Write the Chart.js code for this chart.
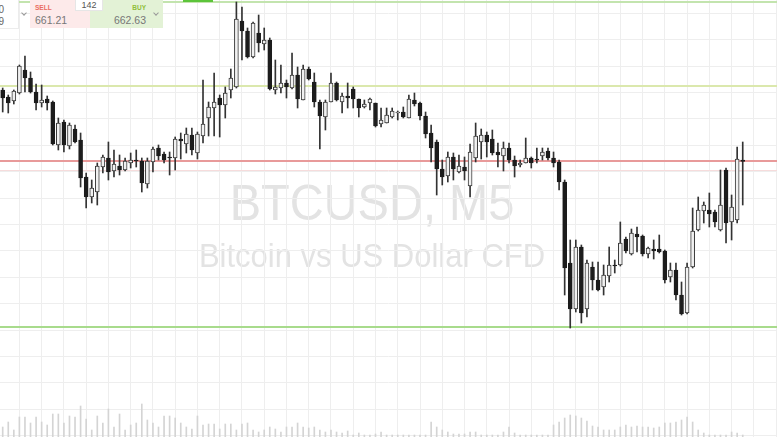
<!DOCTYPE html>
<html>
<head>
<meta charset="utf-8">
<script src="https://cdn.jsdelivr.net/npm/chart.js@4.4.1/dist/chart.umd.min.js"></script>
<style>
  html, body { margin: 0; padding: 0; background: #fff; overflow: hidden; }
  #wrap { position: relative; width: 777px; height: 437px; overflow: hidden;
          font-family: "Liberation Sans", Arial, sans-serif; }
  #wrap canvas { position: absolute; left: 0; top: 0; }
  .box { position: absolute; top: 0; height: 28px; }
  .cut { left: 0; width: 18px; background: #fff; border-right: 1px solid #ececec; border-bottom: 1px solid #ececec; overflow: hidden; }
  .cut div { position: absolute; right: 14px; font-size: 10px; color: #666; }
  .sell { left: 30px; width: 60px; background: #fdeaea; }
  .buy { left: 90px; width: 73px; background: #e3f2d6; }
  .lbl { position: absolute; top: 4px; font-size: 6.5px; font-weight: bold; }
  .px { position: absolute; top: 14px; font-size: 10.5px; color: #777; }
  .sell .lbl, .sell .px { left: 5px; }
  .sell .lbl { color: #ea6b5f; }
  .buy .lbl, .buy .px { right: 17px; }
  .buy .lbl { color: #8fbf3a; }
  .caret { position: absolute; top: 11px; width: 3px; height: 3px; border-right: 1px solid #999; border-bottom: 1px solid #999; transform: rotate(45deg); }
  .spread { position: absolute; left: 75px; top: 0; width: 26px; height: 10px; background: #fff;
            border: 1px solid #e6e6e6; border-top: none; font-size: 9px; line-height: 10px; color: #555; text-align: center; }
  .tab { position: absolute; left: 183px; top: 0; width: 30px; height: 2px; background: #5cc43a; }
</style>
</head>
<body>
<div id="wrap">
  <canvas id="chart"></canvas>
  <div class="tab"></div>
  <div class="box cut"><div style="top:4px">0</div><div style="top:16px">9</div></div>
  <div class="caret" style="left:22px"></div>
  <div class="box sell"><div class="lbl">SELL</div><div class="px" id="sellPx"></div></div>
  <div class="box buy"><div class="lbl">BUY</div><div class="px" id="buyPx"></div></div>
  <div class="caret" style="left:154px"></div>
  <div class="spread" id="spread"></div>
</div>
<script>
// BTCUSD, M5 candles
const opens = [
  663.20, 663.06, 662.98, 663.14, 663.60, 663.44, 663.16, 662.94, 663.02, 662.96,
  662.10, 662.56, 662.08, 662.42, 662.20, 661.46, 661.06, 661.16, 661.66, 661.84,
  661.58, 661.68, 661.60, 661.74, 661.80, 661.78, 661.32, 661.76, 662.04, 661.92,
  661.86, 661.84, 662.22, 662.12, 662.30, 661.94, 662.28, 662.64, 662.84, 663.04,
  662.90, 663.20, 663.26, 664.58, 664.38, 663.86, 664.34, 664.12, 664.20, 663.20,
  663.24, 663.34, 663.24, 663.50, 663.00, 663.62, 663.36, 662.96, 662.66, 662.96,
  663.34, 662.96, 663.08, 663.22, 663.02, 662.86, 662.94, 662.94, 662.52, 662.54,
  662.66, 662.74, 662.76, 662.64, 663.00, 662.94, 662.68, 662.34, 662.16, 661.62,
  661.48, 661.86, 661.56, 661.66, 661.28, 661.84, 662.16, 662.30, 662.22, 661.96,
  661.88, 662.04, 661.80, 661.70, 661.74, 661.84, 661.82, 661.88, 661.98, 661.84,
  661.76, 661.36, 659.74, 658.82, 660.06, 658.82, 659.66, 659.40, 659.26, 659.48,
  659.70, 659.70, 660.22, 659.92, 660.32, 660.28, 659.92, 660.02, 660.02, 659.98,
  659.46, 659.60, 659.10, 658.74, 659.66, 660.40, 660.78, 660.80, 660.76, 660.40,
  661.60, 660.56, 660.60, 661.80
];
const highs = [
  663.24, 663.10, 663.20, 663.70, 663.88, 663.56, 663.32, 663.30, 663.08, 662.98,
  662.64, 662.60, 662.54, 662.50, 662.34, 661.54, 661.40, 661.74, 661.90, 662.16,
  662.00, 661.90, 661.84, 661.94, 662.00, 661.84, 661.84, 662.06, 662.10, 661.96,
  661.96, 662.26, 662.34, 662.44, 662.44, 662.36, 663.40, 662.96, 663.54, 663.10,
  663.26, 663.62, 664.96, 664.86, 664.44, 664.56, 664.70, 664.44, 664.24, 663.80,
  663.70, 663.40, 663.94, 663.66, 663.70, 663.66, 663.54, 663.00, 663.00, 663.54,
  663.36, 663.14, 663.34, 663.26, 663.02, 663.00, 663.04, 662.94, 662.84, 662.84,
  662.84, 662.78, 662.86, 663.10, 663.14, 662.96, 662.76, 662.50, 662.20, 661.80,
  661.96, 661.94, 661.90, 661.86, 662.12, 662.54, 662.42, 662.36, 662.40, 662.14,
  662.16, 662.14, 661.88, 661.80, 662.24, 661.86, 662.04, 662.04, 662.04, 661.96,
  661.80, 661.40, 660.20, 660.20, 660.10, 659.80, 659.76, 659.76, 659.70, 660.06,
  659.80, 660.56, 660.26, 660.42, 660.46, 660.30, 660.06, 660.20, 660.30, 660.00,
  659.74, 659.74, 659.36, 659.74, 660.84, 661.06, 660.96, 661.14, 660.80, 661.60,
  661.64, 661.10, 662.06, 662.16
];
const lows = [
  662.76, 662.74, 662.92, 663.12, 663.16, 663.14, 662.80, 662.86, 662.80, 662.10,
  662.00, 661.96, 662.02, 662.14, 661.26, 660.84, 660.94, 660.90, 661.54, 661.40,
  661.46, 661.50, 661.58, 661.64, 661.66, 661.16, 661.24, 661.56, 661.80, 661.74,
  661.50, 661.60, 661.82, 661.94, 661.90, 661.82, 662.14, 662.28, 662.28, 662.26,
  662.64, 663.04, 663.24, 663.80, 663.84, 663.84, 663.96, 664.00, 663.20, 663.12,
  663.14, 663.04, 663.22, 662.84, 663.00, 663.40, 662.86, 662.02, 662.40, 662.96,
  662.98, 662.74, 662.84, 662.84, 662.66, 662.84, 662.80, 662.46, 662.46, 662.54,
  662.64, 662.60, 662.64, 662.64, 662.88, 662.60, 662.24, 661.76, 661.10, 661.30,
  661.36, 661.40, 661.54, 661.40, 661.06, 661.76, 661.82, 661.86, 661.90, 661.66,
  661.58, 661.74, 661.46, 661.66, 661.74, 661.64, 661.74, 661.80, 661.80, 661.66,
  661.20, 659.10, 658.44, 658.76, 658.54, 658.66, 659.20, 659.18, 659.10, 659.36,
  659.54, 659.68, 659.94, 659.90, 659.96, 659.88, 659.84, 659.82, 659.94, 659.34,
  659.36, 659.00, 658.70, 658.72, 659.64, 660.38, 660.54, 660.46, 660.46, 660.38,
  660.14, 660.20, 660.54, 660.90
];
const closes = [
  663.04, 662.94, 663.18, 663.68, 663.44, 663.16, 662.94, 663.00, 662.94, 662.12,
  662.54, 662.10, 662.50, 662.16, 661.44, 661.06, 661.24, 661.68, 661.86, 661.56,
  661.72, 661.60, 661.78, 661.80, 661.78, 661.34, 661.78, 662.02, 661.88, 661.80,
  661.84, 662.22, 662.18, 662.32, 662.00, 662.32, 662.52, 662.86, 662.96, 662.90,
  663.14, 663.44, 664.62, 664.38, 663.86, 664.54, 664.14, 664.20, 663.22, 663.26,
  663.34, 663.26, 663.50, 663.02, 663.62, 663.42, 662.96, 662.68, 662.96, 663.34,
  663.00, 663.08, 663.04, 663.02, 662.84, 662.92, 663.02, 662.48, 662.60, 662.70,
  662.78, 662.76, 662.66, 663.02, 662.92, 662.68, 662.32, 662.04, 661.62, 661.46,
  661.86, 661.62, 661.68, 661.58, 661.96, 662.28, 662.30, 662.16, 661.94, 661.90,
  662.04, 661.80, 661.68, 661.74, 661.84, 661.74, 661.80, 661.96, 661.84, 661.74,
  661.36, 659.64, 658.82, 660.06, 658.74, 659.74, 659.40, 659.20, 659.50, 659.70,
  659.68, 660.14, 659.98, 660.34, 660.26, 659.92, 660.04, 659.98, 659.96, 659.40,
  659.60, 659.10, 658.72, 659.66, 660.38, 660.80, 660.90, 660.72, 660.56, 660.90,
  660.54, 660.86, 661.82, 661.77
];
const volumes = [
  100, 150, 70, 200, 200, 140, 200, 150, 120, 230,
  230, 140, 210, 200, 310, 180, 70, 210, 140, 280,
  100, 230, 70, 120, 140, 330, 170, 140, 100, 210,
  210, 190, 140, 100, 80, 210, 120, 130, 130, 80,
  130, 130, 70, 130, 140, 70, 50, 70, 100, 80,
  50, 100, 100, 140, 100, 90, 100, 70, 50, 70,
  50, 40, 60, 20, 40, 20, 20, 30, 50, 20,
  20, 20, 20, 20, 20, 20, 20, 150, 100, 70,
  50, 30, 30, 30, 50, 50, 20, 20, 20, 20,
  50, 100, 40, 20, 20, 20, 20, 20, 20, 120,
  150, 190, 220, 210, 190, 160, 110, 100, 70, 70,
  70, 100, 120, 100, 110, 100, 100, 90, 100, 140,
  140, 150, 170, 200, 150, 70, 40, 20, 20, 20,
  20, 50, 40, 20
];

// horizontal price levels drawn across the chart
const levelPrices = [664.965, 663.28, 661.79, 661.59, 658.45];
const levelStyles = [
  { color: "#c3e4ae", width: 2 },
  { color: "#dbe8ad", width: 2 },
  { color: "#e89a9a", width: 2 },
  { color: "#f6dcdc", width: 1 },
  { color: "#a8db8c", width: 2 }
];

const watermark = ["BTCUSD, M5", "Bitcoin vs US Dollar CFD"];
const sellPrice = "661.21";
const buyPrice = "662.63";
const spread = "142";

document.getElementById("sellPx").textContent = sellPrice;
document.getElementById("buyPx").textContent = buyPrice;
document.getElementById("spread").textContent = spread;

const UP_FILL = "#f1f1f1";
const UP_LINE = "#3a3a3a";
const DOWN_FILL = "#1c1c1c";
const GRID = "#eeeeee";

const isUp = opens.map((o, i) => closes[i] >= o);
const bodies = opens.map((o, i) => ({ x: i, y: [o, closes[i]] }));
const wicks = opens.map((o, i) => ({ x: i, y: [lows[i], highs[i]] }));
const vols = volumes.map((v, i) => ({ x: i, y: v }));

// vertical grid every 4th candle
const gridCandles = [];
for (let i = 3; i <= 139; i += 4) gridCandles.push(i);

const backdrop = {
  id: "backdrop",
  beforeDraw(chart) {
    const ctx = chart.ctx;
    ctx.save();
    ctx.fillStyle = "#fff";
    ctx.fillRect(0, 0, chart.width, chart.height);
    ctx.fillStyle = "#e3e3e3";
    ctx.textAlign = "center";
    ctx.textBaseline = "alphabetic";
    ctx.translate(372, 0);
    ctx.scale(1, 1.08);
    ctx.font = "47px 'Liberation Sans', Arial, sans-serif";
    ctx.fillText(watermark[0], 0, 220 / 1.08);
    ctx.font = "31px 'Liberation Sans', Arial, sans-serif";
    ctx.fillText(watermark[1], 0, 267 / 1.08);
    ctx.restore();
  },
  beforeDatasetsDraw(chart) {
    const ctx = chart.ctx;
    const area = chart.chartArea;
    const y = chart.scales.y;
    ctx.save();
    levelPrices.forEach((p, k) => {
      const py = Math.round(y.getPixelForValue(p)) + (levelStyles[k].width === 1 ? 0.5 : 0);
      ctx.strokeStyle = levelStyles[k].color;
      ctx.lineWidth = levelStyles[k].width;
      ctx.beginPath();
      ctx.moveTo(area.left, py);
      ctx.lineTo(area.right, py);
      ctx.stroke();
    });
    ctx.restore();
  }
};

new Chart(document.getElementById("chart"), {
  type: "bar",
  data: {
    datasets: [
      {
        label: "body",
        data: bodies,
        grouped: false,
        barThickness: 4,
        backgroundColor: isUp.map(u => (u ? UP_FILL : DOWN_FILL)),
        borderColor: isUp.map(u => (u ? UP_LINE : DOWN_FILL)),
        borderWidth: 1,
        borderSkipped: false,
        yAxisID: "y"
      },
      {
        label: "wick",
        data: wicks,
        grouped: false,
        barThickness: 1,
        backgroundColor: "#333",
        borderWidth: 0,
        yAxisID: "y"
      },
      {
        label: "volume",
        data: vols,
        grouped: false,
        barThickness: 1,
        backgroundColor: "#d4d4d4",
        borderWidth: 0,
        yAxisID: "yv"
      }
    ]
  },
  options: {
    responsive: true,
    maintainAspectRatio: false,
    devicePixelRatio: 1,
    animation: false,
    layout: { padding: 0 },
    plugins: { legend: { display: false }, tooltip: { enabled: false } },
    scales: {
      x: {
        type: "linear",
        offset: false,
        min: -0.485,
        max: 139.16,
        afterBuildTicks: (scale) => { scale.ticks = gridCandles.map(v => ({ value: v })); },
        ticks: { display: false },
        grid: { color: GRID, drawTicks: false, offset: false },
        border: { display: false }
      },
      yg: {
        type: "linear",
        position: "left",
        reverse: true,
        min: -0.504,
        max: 16.05,
        ticks: { display: false, stepSize: 1, includeBounds: false },
        grid: { color: GRID, drawTicks: false },
        border: { display: false }
      },
      y: {
        type: "linear",
        display: false,
        min: 656.26,
        max: 665.0
      },
      yv: {
        type: "linear",
        display: false,
        min: 0,
        max: 4370
      }
    }
  },
  plugins: [backdrop]
});
</script>
</body>
</html>
